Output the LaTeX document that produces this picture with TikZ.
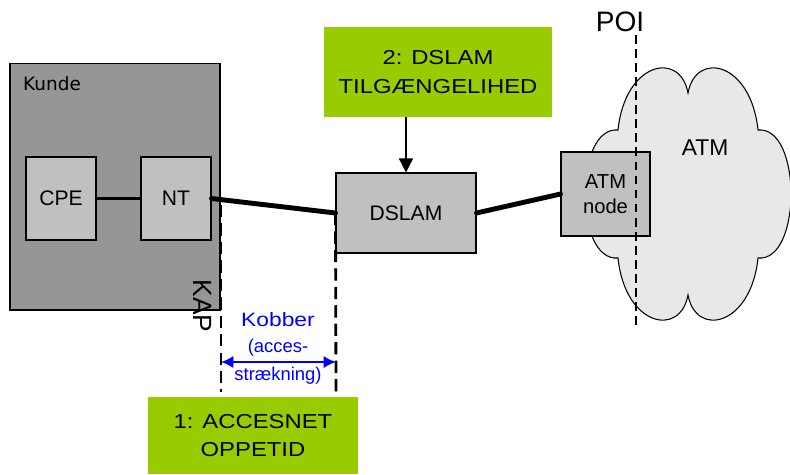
\documentclass[tikz,border=0pt]{standalone}
\usepackage{fontspec}
\setmainfont{Liberation Sans}
\newfontfamily\widefont[FakeStretch=1.18]{Liberation Sans}
\newfontfamily\kundefont{DejaVu Sans}
\usetikzlibrary{arrows.meta}
\definecolor{kundegray}{HTML}{969696}
\definecolor{boxgray}{HTML}{C0C0C0}
\definecolor{cloudgray}{HTML}{E8E8E8}
\definecolor{kpigreen}{HTML}{99CC00}

\begin{document}
\begin{tikzpicture}[x=0.02cm, y=-0.02cm,
    unit/.style={rectangle, draw, fill=boxgray, line width=0.6pt, inner sep=0pt, align=center, font=\fontsize{12}{14}\selectfont},
    kpi/.style={rectangle, fill=kpigreen, inner sep=0pt, align=center, font=\widefont\fontsize{11.5}{16}\selectfont},
    marker/.style={line width=1.6pt, dash pattern=on 7pt off 3.5pt},
    poiline/.style={line width=1.5pt, dash pattern=on 5pt off 3pt}]
    \useasboundingbox (0,0) rectangle (790,474);
    % ATM cloud
    \path [draw, fill=cloudgray, line width=0.6pt] (688,93)
        .. controls (696,50) and (751,62) .. (758,130)
        .. controls (802,126) and (802,262) .. (758,258)
        .. controls (751,326) and (696,338) .. (688,295)
        .. controls (680,338) and (625,326) .. (618,258)
        .. controls (574,262) and (574,126) .. (618,130)
        .. controls (625,62) and (680,50) .. (688,93) -- cycle;
    % Place nodes
    \node [font=\fontsize{13}{15}\selectfont] (atm) at (705,148) {ATM};
    \node [rectangle, draw, fill=kundegray, line width=0.6pt, minimum width=4.2cm, minimum height=4.94cm] (kunde) at (115,186.5) {};
    \node [anchor=west, font=\kundefont\fontsize{10.5}{12}\selectfont] (kundelabel) at (17,84) {Kunde};
    \node [unit, minimum width=1.4cm, minimum height=1.66cm] (cpe) at (61,198.5) {CPE};
    \node [unit, minimum width=1.4cm, minimum height=1.66cm] (nt) at (176,198.5) {NT};
    \node [unit, minimum width=2.8cm, minimum height=1.6cm] (dslam) at (406,213) {DSLAM};
    \node [unit, minimum width=1.78cm, minimum height=1.68cm, font=\fontsize{11.5}{14}\selectfont] (atmnode) at (605.5,194) {ATM\\node};
    \node [kpi, minimum width=4.56cm, minimum height=1.8cm] (kpi2) at (438,72) {2: DSLAM\\TILGÆNGELIHED};
    \node [kpi, minimum width=4.2cm, minimum height=1.54cm] (kpi1) at (253,435.5) {1: ACCESNET\\OPPETID};
    \node [font=\fontsize{16}{18}\selectfont] (poi) at (620,22) {POI};
    \node [rotate=-90, font=\fontsize{15}{17}\selectfont] (kap) at (203,306) {KAP};
    \node [text=blue, font=\widefont\fontsize{11}{13}\selectfont] (kobber) at (278,320) {Kobber};
    \node [text=blue, font=\fontsize{10.5}{12}\selectfont] (acces) at (278,348) {(acces-};
    \node [text=blue, font=\fontsize{10.5}{12}\selectfont] (straek) at (278,376) {strækning)};
    \coordinate (kaptop) at (221,205);
    \coordinate (kapbot) at (221,392);
    \coordinate (dslbot) at (336,392);
    \coordinate (poitop) at (636,35);
    \coordinate (poibot) at (636,325);
    \coordinate (kobl) at (221,362);
    \coordinate (kobr) at (336,362);
    % Connect
    \path [draw, line width=1.5pt] (cpe) -- (nt);
    \path [draw, line width=2.8pt, line cap=round] (nt.east) -- (dslam.west);
    \path [draw, line width=2.8pt, line cap=round] (dslam.east) -- (atmnode.west);
    \path [draw, line width=0.8pt, -{Triangle[width=8pt,length=8pt]}] (dslam.north |- kpi2.south) -- (dslam.north);
    \path [draw, marker] (kaptop) -- (kapbot);
    \path [draw, marker] (dslam.west) -- (dslbot);
    \path [draw, poiline] (poitop) -- (poibot);
    \path [draw, blue, line width=1.2pt, {Latex[length=7pt,width=7pt]}-{Latex[length=7pt,width=7pt]}] (kobl) -- (kobr);
\end{tikzpicture}
\end{document}
